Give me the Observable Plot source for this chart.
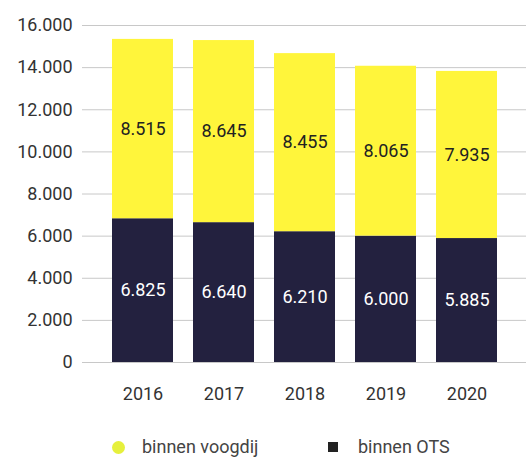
<!DOCTYPE html>
<html>
<head>
<meta charset="utf-8">
<script src="https://cdn.jsdelivr.net/npm/d3@7"></script>
<script src="https://cdn.jsdelivr.net/npm/@observablehq/plot@0.6"></script>
<style>
  html, body { margin: 0; padding: 0; background: #fff; }
  body { width: 526px; height: 459px; overflow: hidden; font-family: Roboto, sans-serif; }
  #legend { position: relative; height: 49px; font-size: 18px; color: #444; }
  .item { position: absolute; top: 27px; line-height: 20px; }
  .sw { position: absolute; }
</style>
</head>
<body>
<div id="chart"></div>
<div id="legend"></div>
<script>
const years = ["2016", "2017", "2018", "2019", "2020"];
const otsValues = [6825, 6640, 6210, 6000, 5885];
const voogdijValues = [8515, 8645, 8455, 8065, 7935];
const seriesNames = ["binnen OTS", "binnen voogdij"];
const seriesColors = ["#23213f", "#fff53b"];
const labelColors = ["#ffffff", "#222222"];
const yTicks = [0, 2000, 4000, 6000, 8000, 10000, 12000, 14000, 16000];

const nl = d3.formatLocale({decimal: ",", thousands: ".", grouping: [3], currency: ["€", ""]});
const fmt = nl.format(",");

const data = [];
years.forEach((y, i) => data.push({year: y, series: seriesNames[0], value: otsValues[i]}));
years.forEach((y, i) => data.push({year: y, series: seriesNames[1], value: voogdijValues[i]}));

const chart = Plot.plot({
  width: 526,
  height: 410,
  marginTop: 25,
  marginBottom: 48,
  marginLeft: 82,
  marginRight: 0,
  style: {fontFamily: "Roboto, sans-serif", fontSize: "18px", color: "#333", background: "#fff"},
  x: {domain: years, range: [102, 507], paddingInner: 0.25, paddingOuter: 0.125, label: null},
  y: {domain: [0, 16000], label: null},
  color: {domain: seriesNames, range: seriesColors},
  marks: [
    Plot.ruleY(yTicks, {stroke: "#c8c8c8", strokeWidth: 1}),
    Plot.barY(data, Plot.stackY({x: "year", y: "value", z: "series", fill: "series", order: null})),
    Plot.text(data, Plot.stackY({
      x: "year", y: "value", z: "series", order: null,
      text: d => fmt(d.value),
      fill: d => labelColors[seriesNames.indexOf(d.series)],
      fontSize: 18
    })),
    Plot.axisY({ticks: yTicks, tickSize: 0, tickPadding: 10, tickFormat: fmt, fontSize: 18, fill: "#333"}),
    Plot.axisX({tickSize: 0, tickPadding: 25, fontSize: 18, fill: "#333"})
  ]
});
document.getElementById("chart").appendChild(chart);

const legend = document.getElementById("legend");
const legendItems = [
  {name: seriesNames[1], color: "#e6f03c", shape: "circle", sx: 112, tx: 142},
  {name: seriesNames[0], color: "#222222", shape: "square", sx: 328, tx: 358}
];
legendItems.forEach(it => {
  const sw = document.createElement("div");
  sw.className = "sw";
  if (it.shape === "circle") {
    sw.style.cssText = `left:${it.sx}px;top:31px;width:13px;height:13px;border-radius:50%;background:${it.color}`;
  } else {
    sw.style.cssText = `left:${it.sx}px;top:32px;width:10px;height:10px;background:${it.color}`;
  }
  legend.appendChild(sw);
  const t = document.createElement("div");
  t.className = "item";
  t.style.left = it.tx + "px";
  t.textContent = it.name;
  legend.appendChild(t);
});
</script>
</body>
</html>
